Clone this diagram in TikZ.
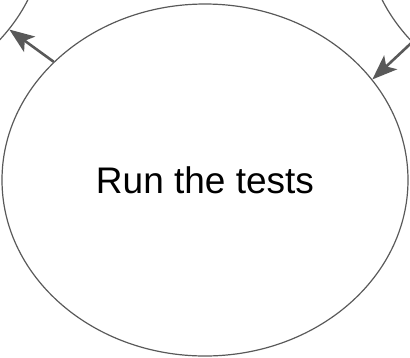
\documentclass[tikz,border=0pt]{standalone}
\usepackage{fontspec}
\setmainfont{Liberation Sans}
\usetikzlibrary{shapes.geometric,arrows.meta}
\definecolor{edgegray}{HTML}{595959}
\tikzset{
  bubble/.style={ellipse, draw=edgegray, line width=1.2pt, inner sep=0pt,
    minimum width=406pt, minimum height=352pt, font=\fontsize{37}{44}\selectfont},
  flow/.style={draw=edgegray, line width=2.6pt,
    -{Stealth[length=25pt,width=19pt,inset=6pt]}}
}
\begin{document}
\begin{tikzpicture}[x=1pt,y=-1pt]
\useasboundingbox (0,0) rectangle (410,357);
\clip (0,0) rectangle (410,357);
\node[bubble] (main) at (205,180) {Run the tests};
\node[bubble] (tl) at (-158,-71) {};
\node[bubble] (tr) at (568,-71) {};
\draw[flow] (main.142.2) -- (tl.-31);
\draw[flow] (tr.216.7) -- (main.31.3);
\end{tikzpicture}
\end{document}
